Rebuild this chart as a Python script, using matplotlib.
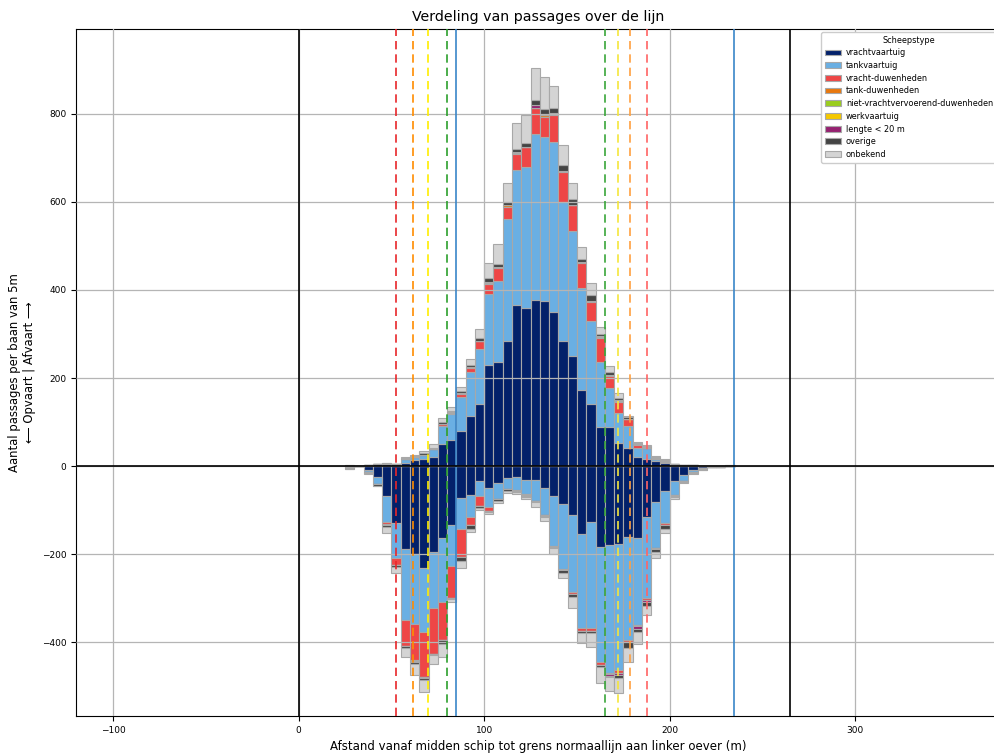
import numpy as np
import matplotlib
matplotlib.use("Agg")
import matplotlib.pyplot as plt

# bin left edges (m), bins are 5 m wide
afstand = [25, 30, 35, 40, 45, 50, 55, 60, 65, 70, 75, 80, 85, 90, 95, 100, 105, 110,
           115, 120, 125, 130, 135, 140, 145, 150, 155, 160, 165, 170, 175, 180, 185,
           190, 195, 200, 205, 210, 215, 220, 225, 230]

categorieen = ["vrachtvaartuig", "tankvaartuig", "vracht-duwenheden", "tank-duwenheden",
               "niet-vrachtvervoerend-duwenheden", "werkvaartuig", "lengte < 20 m",
               "overige", "onbekend"]
kleuren = ["#03216a", "#6aafe3", "#ee4646", "#e8780e", "#9acd1e", "#f5c800",
           "#952170", "#444444", "#d4d4d4"]

# Afvaart (upwards)
af_vracht = [0, 1, 2, 5, 5, 4, 8, 13, 17, 20, 49, 58, 80, 114, 140, 229, 236, 285,
             367, 358, 377, 375, 349, 283, 251, 173, 140, 89, 88, 53, 40, 20, 17,
             11, 8, 3, 2, 2, 1, 1, 1, 0]
af_tank = [0, 0, 0, 0, 0, 0, 8, 7, 8, 19, 43, 60, 77, 100, 127, 163, 184, 276,
           305, 322, 377, 372, 388, 318, 282, 231, 190, 148, 90, 67, 52, 20, 25,
           5, 2, 1, 1, 0, 0, 0, 0, 0]
af_vduw = [0, 0, 0, 0, 0, 0, 0, 0, 0, 0, 4, 3, 7, 9, 17, 22, 31, 28,
           36, 44, 60, 47, 61, 66, 59, 57, 43, 55, 26, 26, 14, 8, 0,
           0, 0, 0, 0, 0, 0, 0, 0, 0]
af_tduw = [0, 0, 0, 0, 0, 0, 0, 0, 0, 0, 0, 1, 1, 1, 1, 2, 2, 3,
           3, 2, 0, 4, 3, 4, 2, 2, 3, 2, 2, 2, 0, 1, 0,
           0, 0, 0, 0, 0, 0, 0, 0, 0]
af_nvduw = [0, 0, 0, 0, 0, 0, 0, 0, 0, 0, 0, 0, 0, 0, 0, 2, 0, 1,
            2, 0, 0, 0, 0, 0, 0, 0, 0, 0, 0, 0, 0, 0, 1,
            0, 0, 0, 0, 0, 0, 0, 0, 0]
af_werk = [0, 0, 0, 0, 0, 0, 0, 0, 0, 0, 0, 0, 0, 0, 0, 0, 0, 0,
           0, 0, 0, 0, 0, 0, 0, 0, 0, 0, 0, 1, 0, 0, 0,
           0, 0, 0, 0, 0, 0, 0, 0, 0]
af_klein = [1, 0, 0, 0, 0, 0, 0, 0, 0, 0, 0, 0, 0, 2, 0, 0, 0, 0,
            0, 0, 6, 0, 0, 0, 0, 0, 0, 2, 0, 0, 0, 0, 0,
            3, 2, 0, 0, 0, 0, 0, 0, 1]
af_overig = [2, 0, 1, 0, 1, 0, 3, 3, 4, 3, 4, 3, 5, 4, 5, 10, 7, 8,
             8, 7, 11, 13, 12, 12, 12, 7, 12, 4, 8, 6, 5, 3, 3,
             2, 2, 1, 0, 0, 0, 0, 0, 1]
af_onbekend = [0, 0, 0, 0, 0, 0, 2, 1, 4, 9, 10, 8, 10, 13, 22, 33, 45, 43,
               59, 64, 73, 72, 51, 46, 38, 27, 27, 17, 13, 10, 3, 3, 2,
               2, 1, 0, 0, 0, 0, 0, 0, 0]

# Opvaart (downwards)
op_vracht = [2, 1, 8, 24, 67, 130, 189, 201, 232, 195, 163, 135, 73, 66, 34, 51, 39, 28,
             26, 32, 32, 51, 68, 86, 111, 155, 128, 183, 180, 177, 162, 164, 115,
             81, 56, 33, 20, 8, 5, 2, 2, 1]
op_tank = [0, 0, 5, 17, 60, 78, 161, 159, 146, 128, 145, 92, 70, 49, 34, 42, 37, 25,
           29, 32, 47, 61, 113, 148, 175, 214, 241, 262, 290, 287, 234, 197, 186,
           105, 74, 33, 14, 5, 2, 1, 0, 0]
op_vduw = [0, 0, 0, 0, 5, 18, 58, 81, 102, 103, 88, 72, 63, 20, 23, 9, 0, 0,
           2, 2, 0, 0, 3, 3, 4, 6, 6, 7, 3, 6, 4, 3, 4,
           0, 3, 0, 0, 0, 0, 0, 0, 0]
op_tduw = [0, 0, 0, 0, 0, 0, 0, 1, 0, 0, 0, 0, 1, 0, 0, 0, 0, 0,
           0, 0, 0, 0, 0, 0, 0, 0, 0, 0, 0, 1, 0, 0, 0,
           0, 0, 0, 0, 0, 0, 0, 0, 0]
op_nvduw = [0, 0, 0, 0, 2, 0, 0, 4, 0, 0, 0, 0, 0, 0, 0, 0, 0, 0,
            0, 0, 0, 0, 0, 0, 0, 0, 0, 0, 0, 0, 0, 0, 0,
            0, 0, 2, 0, 2, 0, 0, 0, 0]
op_werk = [0, 0, 0, 0, 0, 0, 0, 0, 0, 0, 0, 0, 0, 0, 0, 0, 0, 0,
           0, 0, 0, 0, 0, 0, 0, 0, 0, 0, 0, 0, 0, 0, 0,
           0, 0, 0, 0, 0, 0, 0, 0, 0]
op_klein = [2, 0, 0, 0, 0, 0, 0, 0, 2, 0, 0, 0, 0, 0, 0, 0, 0, 0,
            0, 1, 0, 1, 0, 0, 0, 0, 0, 0, 3, 4, 0, 6, 3,
            2, 0, 0, 0, 0, 0, 0, 0, 0]
op_overig = [2, 0, 2, 4, 5, 3, 6, 4, 4, 4, 9, 4, 9, 7, 5, 3, 3, 4,
             3, 3, 3, 3, 3, 5, 7, 4, 5, 4, 4, 6, 14, 7, 9,
             7, 9, 3, 3, 0, 2, 0, 0, 0]
op_onbekend = [0, 0, 2, 0, 14, 15, 21, 24, 28, 20, 30, 7, 15, 7, 5, 4, 4, 5,
               4, 5, 10, 9, 14, 13, 25, 23, 32, 38, 31, 34, 31, 28, 21,
               13, 11, 5, 2, 2, 0, 0, 0, 0]

afvaart = [af_vracht, af_tank, af_vduw, af_tduw, af_nvduw, af_werk, af_klein, af_overig, af_onbekend]
opvaart = [op_vracht, op_tank, op_vduw, op_tduw, op_nvduw, op_werk, op_klein, op_overig, op_onbekend]

# reference lines (m)
oever_lijnen = [0, 265]
vaarweg_lijnen = [85, 234.5]
stippel_links = [(52.5, "#e8262a"), (61.5, "#ff8c00"), (69.5, "#ffee00"), (80, "#2ca02c")]
stippel_rechts = [(165, "#3aa63a"), (172, "#f5e63c"), (178.5, "#ffa040"), (188, "#ff6464")]

fig = plt.figure(figsize=(9.94, 7.53), dpi=100)
ax = fig.add_axes([76 / 994, 37 / 753, 924 / 994, 687 / 753])

x = np.array(afstand, dtype=float)
w = 5
bottom_up = np.zeros(len(x))
bottom_dn = np.zeros(len(x))
for naam, kleur, up, dn in zip(categorieen, kleuren, afvaart, opvaart):
    up = np.array(up, dtype=float)
    dn = np.array(dn, dtype=float)
    ax.bar(x, up, width=w, bottom=bottom_up, align="edge", color=kleur,
           edgecolor="#a8a8a8", linewidth=0.8, label=naam, zorder=2)
    ax.bar(x, -dn, width=w, bottom=-bottom_dn, align="edge", color=kleur,
           edgecolor="#a8a8a8", linewidth=0.8, zorder=2)
    bottom_up += up
    bottom_dn += dn

for xv in oever_lijnen:
    ax.axvline(xv, color="black", linewidth=1.2, zorder=3)
for xv in vaarweg_lijnen:
    ax.axvline(xv, color="#3a86c8", linewidth=1.2, zorder=3)
for xv, c in stippel_links + stippel_rechts:
    ax.axvline(xv, color=c, linewidth=1.2, linestyle=(0, (5, 3)), zorder=3)
ax.axhline(0, color="black", linewidth=1.2, zorder=3)

ax.set_xlim(-120, 378)
ax.set_ylim(-568, 993)
ax.set_xticks([-100, 0, 100, 200, 300])
ax.set_yticks([-400, -200, 0, 200, 400, 600, 800])
ax.tick_params(labelsize=6.5)
ax.grid(True, color="#b5b5b5", linewidth=0.9)
ax.set_axisbelow(False)

ax.set_title("Verdeling van passages over de lijn", fontsize=10.2)
ax.set_xlabel("Afstand vanaf midden schip tot grens normaallijn aan linker oever (m)", fontsize=8.5)
ax.set_ylabel("Aantal passages per baan van 5m\n\u27f5 Opvaart | Afvaart \u27f6", fontsize=8.4)

leg = ax.legend(title="Scheepstype", loc="upper left",
                bbox_to_anchor=(821 / 994, 1 - 32 / 753), bbox_transform=fig.transFigure,
                borderaxespad=0, fontsize=5.9, title_fontsize=5.9, framealpha=1,
                edgecolor="#cccccc", labelspacing=0.45, handlelength=2.0,
                handletextpad=0.6, borderpad=0.45)
leg.set_zorder(5)

fig.savefig("out.png", dpi=100)
